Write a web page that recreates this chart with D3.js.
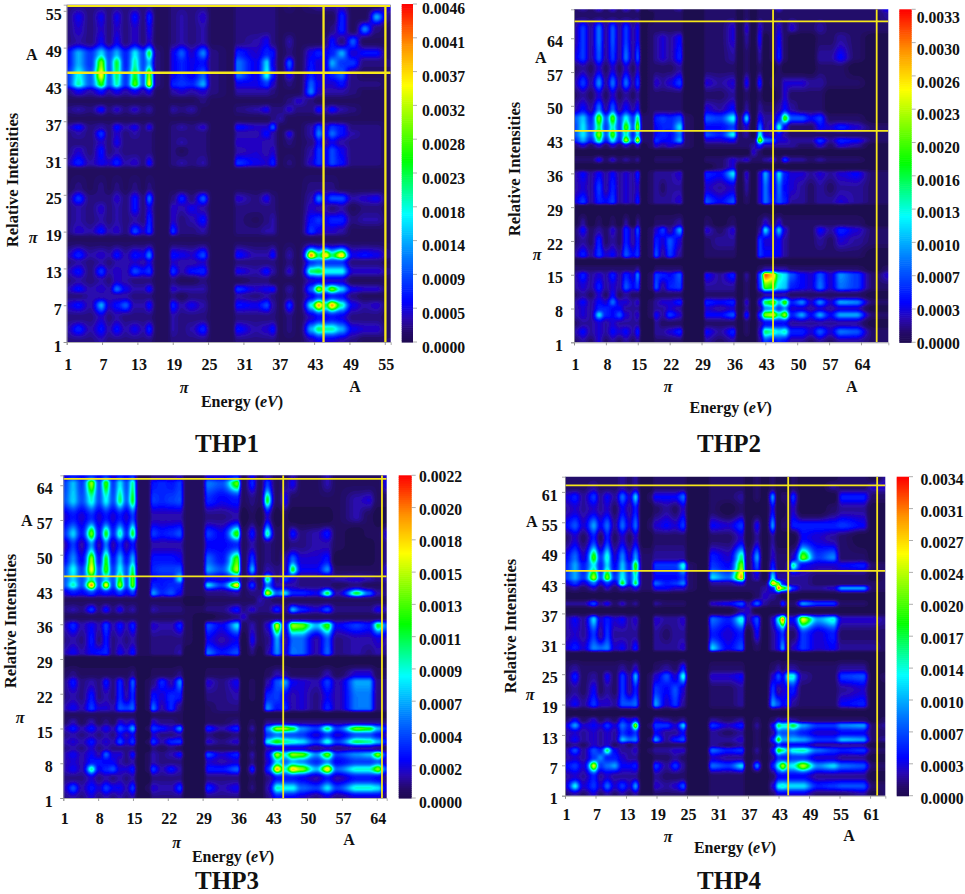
<!DOCTYPE html>
<html><head><meta charset="utf-8">
<style>html,body{margin:0;padding:0;background:#fff}svg{display:block}text{font-family:"Liberation Serif",serif;font-weight:bold;fill:#111}</style>
<script src="https://cdn.jsdelivr.net/npm/d3@7"></script></head><body><svg id="chart" width="965" height="894"></svg>
<script>
// Orbital knots, values at knots in colour-bar units
const thp1Cols=[1,3,5,6.9,8.2,9.5,11,12.6,14,15,16.4,18,19,20.5,22.2,24.2,25.8,29,30,33.2,35,36,37.3,38.8,40.3,42.5,43.8,45,46,47.7,49.6,51.6,53.6,56];
const thp1Rows=[56,54,52,50,48.1,46.5,44.5,43,41.8,40.3,38.9,37.4,36,35,33.5,32.2,30.1,29,26.2,24.4,22.8,20.9,19,17.8,15.1,14,12.5,11,9.6,8.5,7,5,3.1,1];
const thp1Values=[
[2,2,2,2,2,2,2,2,2,2,1,1,2,2,2,2,1,1,2,2,2,2,1,2,1,2,3,3,3,3,1,1,1,6],
[2,5,2,5,2,5,2,6,2,7,1,1,2,3,2,4,1,1,2,2,2,2,1,1,1,1,1,1,1,7,1,1,14,2],
[2,4,2,4,2,4,2,4,2,5,1,1,2,3,2,3,1,1,2,2,2,2,1,1,1,1,1,1,2,7,1,12,2,1],
[2,3,2,5,2,5,2,4,2,4,1,1,2,3,2,3,1,1,2,3,5,2,1,3,1,1,1,2,6,2,10,1,1,1],
[6,14,8,16,9,14,7,17,9,24,2,1,5,10,4,12,2,1,7,4,7,6,1,2,1,5,7,5,7,14,4,6,6,1],
[6,14,8,30,10,24,7,20,9,15,2,1,5,7,5,6,2,1,11,5,16,5,1,10,1,6,4,5,14,8,8,2,2,2],
[8,18,10,36,10,22,8,24,10,32,2,1,5,7,5,10,2,1,11,5,18,7,1,5,1,7,4,5,7,10,2,1,1,1],
[8,20,10,26,10,20,8,28,10,36,2,1,7,8,7,14,2,1,5,5,8,4,1,2,1,10,5,4,4,6,2,2,2,1],
[2,5,3,6,3,5,3,5,3,5,1,1,3,4,3,4,2,1,3,3,3,2,1,1,1,12,4,3,3,3,2,1,1,1],
[1,1,1,1,1,1,1,1,1,1,1,1,1,1,1,2,1,1,1,1,1,1,1,2,4,2,1,1,1,1,1,1,1,1],
[2,3,2,6,2,4,2,4,2,3,1,1,3,2,3,1,1,1,2,3,5,2,2,4,2,2,6,3,6,3,2,1,1,1],
[1,1,1,1,1,1,1,1,1,1,1,1,1,1,1,1,1,1,1,1,1,2,3,1,1,1,1,1,1,1,1,1,1,1],
[3,6,2,3,2,6,3,5,2,5,1,1,2,3,2,4,1,1,6,4,4,10,1,1,1,3,9,4,8,6,2,2,2,1],
[2,3,2,8,2,4,2,3,2,2,1,1,2,2,2,2,1,1,3,3,6,3,1,5,1,3,12,5,11,6,3,2,2,1],
[2,2,2,4,2,5,2,2,2,2,1,1,2,3,2,2,1,1,4,4,3,3,1,2,1,2,6,3,5,3,2,2,2,1],
[2,4,2,6,2,3,2,2,2,2,1,1,2,1,2,2,1,1,3,4,3,4,1,1,1,3,8,5,9,5,2,2,2,1],
[3,7,3,5,4,7,3,4,2,6,1,1,2,3,2,3,1,1,8,5,4,7,1,2,1,4,8,5,9,6,2,2,2,1],
[1,1,1,1,1,1,1,1,1,1,1,1,1,1,1,1,1,1,1,1,1,1,1,1,1,1,1,1,1,1,1,1,1,1],
[1,2,1,2,1,2,1,2,1,2,1,1,1,1,1,1,1,1,1,1,1,1,1,1,1,2,2,2,2,1,1,1,1,1],
[2,8,2,2,2,4,2,6,2,11,1,1,2,7,2,10,1,1,4,2,5,2,1,1,1,3,12,5,9,9,3,4,5,1],
[2,3,2,4,2,3,2,6,2,5,1,1,4,3,5,3,1,1,2,2,2,2,1,1,1,4,3,3,2,3,1,2,2,1],
[2,3,2,3,2,3,2,3,2,7,1,1,4,2,3,6,1,1,2,1,2,3,1,1,1,6,8,5,7,7,2,3,3,1],
[2,4,3,6,3,4,2,9,4,8,1,1,8,2,2,3,1,1,2,2,3,3,1,1,1,8,5,4,4,3,1,1,1,1],
[1,1,1,1,1,1,1,1,1,1,1,1,1,1,1,1,1,1,1,1,1,1,1,1,1,1,1,1,1,1,1,1,1,1],
[3,7,3,4,3,6,3,6,5,12,1,1,6,5,4,9,1,1,6,3,3,6,1,3,1,42,22,38,22,38,5,6,5,2],
[2,3,2,3,2,3,3,4,3,5,1,1,4,3,3,4,1,1,2,2,2,2,1,2,1,8,10,8,8,8,2,2,2,1],
[3,6,2,8,3,4,3,9,6,8,1,1,8,3,6,7,1,1,5,3,6,3,1,4,1,22,24,18,18,18,4,4,4,2],
[2,3,2,3,2,4,3,2,2,2,1,1,2,1,1,2,1,1,1,2,2,1,1,1,1,4,5,4,4,4,1,1,1,1],
[3,6,3,4,3,11,5,3,3,6,1,1,4,3,3,3,1,1,8,4,5,6,1,3,1,10,32,18,30,16,5,4,4,1],
[2,2,3,3,3,3,3,2,2,2,1,1,2,1,2,2,1,1,3,2,3,2,1,2,1,5,8,5,7,6,2,1,1,1],
[4,6,3,14,4,6,10,3,3,6,1,1,7,3,5,3,1,1,6,5,9,3,1,8,1,18,40,22,40,20,5,3,4,1],
[2,2,2,4,2,3,2,2,2,2,1,1,3,2,2,2,1,1,2,2,2,2,1,2,1,4,6,5,6,5,2,2,2,1],
[3,7,3,6,3,6,3,5,3,7,1,1,3,2,3,7,1,1,6,3,4,6,1,2,1,14,22,20,20,14,5,4,4,1],
[2,2,2,3,2,2,2,2,2,2,1,1,2,2,2,2,1,1,2,2,2,2,1,1,1,3,5,4,4,3,2,1,1,2]];

const thp2Cols=[1,3,4.7,6.5,8,9.5,11,12.4,14,15,16.2,18,19,20.5,22,24.3,25.7,29,30,33,36,37.4,38.9,40.4,41.8,43,44.7,46,47.3,48.8,51,53,55,57.3,59.5,63,67,70];
const thp2Rows=[70,69,66,64,60,57.8,54.7,52.2,49.5,47.4,45.5,44,42.8,41.7,40.4,38.8,37.4,36,33,30,29,25.7,24.3,22,19,17.7,16.3,15,12.4,10.8,9.3,8,6.7,4.9,3.2,1];
const thp2Values=[
[1,2,1,3,1,3,1,3,1,3,0,1,1,1,1,2,0,0,1,1,1,0,1,0,1,1,1,3,1,1,1,1,1,1,1,1,1,4],
[1,1,1,1,1,1,1,1,1,1,0,0,1,1,1,1,0,0,1,1,1,0,1,0,1,1,1,1,1,1,1,1,1,1,1,1,1,2],
[2,6,2,8,2,7,2,6,2,4,0,1,1,1,1,1,0,0,1,1,3,0,3,0,3,1,1,3,1,3,1,1,2,1,1,1,1,1],
[2,6,2,8,2,7,2,6,2,4,0,1,2,3,2,4,0,0,1,1,3,0,2,0,4,0,1,4,1,0,0,0,1,1,2,1,0,0],
[3,6,2,7,2,6,2,8,2,7,0,1,2,3,2,5,0,0,1,1,2,0,1,0,2,0,1,5,1,0,0,0,2,2,4,1,0,0],
[1,2,1,3,1,3,1,3,1,3,0,1,1,1,1,2,0,0,1,1,1,0,1,0,1,0,0,1,0,0,0,0,1,1,1,0,0,0],
[2,6,2,9,2,8,2,8,2,6,0,1,3,2,3,6,0,0,3,2,3,0,4,0,5,0,1,1,3,3,3,2,2,1,1,1,0,0],
[1,2,1,3,1,3,1,2,1,2,0,1,1,1,1,1,0,0,1,1,2,0,1,0,1,0,0,1,3,1,1,1,1,0,0,0,0,0],
[2,4,2,8,2,7,2,4,2,4,0,1,1,1,1,1,0,0,3,2,4,0,2,0,2,1,1,2,4,2,1,1,1,0,0,0,0,0],
[7,11,5,21,7,20,6,13,6,16,1,1,5,6,5,7,1,0,7,6,13,1,12,0,4,2,2,5,20,7,7,4,6,1,1,1,0,0],
[6,12,6,16,6,14,6,20,7,23,1,1,4,5,5,12,1,0,4,4,6,1,3,0,8,2,3,14,4,1,1,1,4,3,5,3,1,1],
[7,12,7,22,7,20,6,14,5,12,1,1,4,5,4,8,1,0,7,5,13,1,2,0,14,3,2,4,2,1,1,1,1,1,1,1,1,1],
[5,10,5,16,5,13,5,24,6,28,1,1,6,4,4,10,1,0,3,3,4,1,1,1,24,8,7,3,3,2,2,2,6,2,5,4,1,1],
[1,3,1,3,1,3,1,3,1,3,0,1,3,2,3,2,1,0,1,1,1,1,1,2,5,2,2,2,2,2,1,1,3,1,3,2,0,0],
[0,0,0,0,0,0,0,0,0,0,0,0,0,0,0,0,0,0,0,0,0,0,0,3,1,0,0,0,0,0,0,0,0,0,0,0,0,0],
[1,1,1,4,1,3,1,2,1,2,0,0,1,1,1,1,0,0,1,1,3,2,3,1,1,2,3,1,6,2,2,1,2,1,1,1,0,0],
[0,0,0,0,0,0,0,0,0,0,0,0,0,0,0,0,0,0,0,1,3,0,0,0,0,0,0,0,0,0,0,0,0,0,0,0,0,0],
[2,4,2,4,2,4,2,3,2,5,0,1,2,2,2,3,0,0,5,4,12,0,3,0,3,10,3,12,5,3,3,2,3,2,3,4,1,1],
[2,3,2,6,2,5,2,3,2,3,0,1,2,1,2,2,0,0,3,2,3,0,2,0,3,8,3,8,4,3,2,1,2,1,2,2,1,1],
[3,6,2,5,4,6,2,3,2,5,0,1,2,2,2,3,0,0,7,4,7,0,1,0,3,8,4,7,5,2,2,1,2,2,3,2,1,1],
[0,0,0,0,0,0,0,0,0,0,0,0,0,0,0,0,0,0,0,0,0,0,0,0,0,0,0,0,0,0,0,0,0,0,0,0,0,0],
[0,2,0,1,0,1,0,2,0,2,0,0,1,1,1,2,0,0,1,0,1,0,0,0,1,3,1,3,1,1,1,1,1,1,1,1,0,0],
[1,4,1,2,1,3,1,5,2,7,0,1,3,6,2,10,0,0,3,1,3,0,0,0,2,12,3,11,3,1,1,1,4,2,5,3,1,1],
[1,2,1,5,1,2,1,5,2,5,0,1,5,3,7,3,0,0,1,2,2,0,0,0,6,3,3,4,2,1,1,1,2,1,3,2,1,1],
[2,5,2,6,3,4,2,7,4,6,0,1,7,2,6,2,0,0,1,1,1,0,0,0,6,4,4,4,2,1,1,1,1,1,1,1,0,0],
[0,0,0,0,0,0,0,0,0,0,0,0,0,0,0,0,0,0,0,0,0,0,0,0,0,0,0,0,0,0,0,0,0,0,0,0,0,0],
[1,1,1,1,1,1,1,1,1,2,0,0,1,1,1,1,0,0,0,0,0,0,0,0,1,2,2,2,2,1,1,1,1,1,1,1,0,1],
[2,5,2,3,2,5,2,5,3,9,0,1,6,5,4,7,0,0,4,2,5,0,2,0,7,31,27,14,12,7,4,3,7,3,9,6,1,3],
[2,3,2,5,2,3,2,7,4,6,0,1,7,2,5,6,0,0,2,2,2,0,1,0,6,20,18,12,11,5,4,3,8,3,8,6,1,1],
[1,2,1,3,1,4,1,2,1,1,0,0,1,1,1,1,0,0,1,1,1,0,1,0,1,2,2,2,2,1,1,1,1,1,1,1,0,0],
[2,4,2,4,3,8,3,3,2,3,0,1,2,3,3,5,0,0,5,4,5,0,3,0,4,17,21,11,20,5,9,3,9,3,10,9,1,1],
[2,3,2,5,5,4,4,2,2,2,0,1,2,2,3,2,0,0,3,2,3,0,2,0,2,9,10,6,9,3,3,2,3,2,3,3,0,0],
[2,3,2,12,5,4,7,3,2,3,0,1,4,2,6,3,0,0,4,4,7,0,5,0,6,22,24,15,23,5,10,4,10,4,10,10,1,1],
[1,2,2,3,2,3,2,2,2,2,0,0,2,1,1,1,0,0,1,1,1,0,1,0,2,4,4,4,4,2,2,2,2,2,2,2,0,0],
[2,4,2,3,2,4,3,4,2,5,0,0,2,2,3,5,0,0,4,2,5,0,1,0,3,16,14,12,14,5,5,3,7,3,8,7,1,1],
[1,2,1,3,1,2,1,2,1,2,0,0,1,1,1,1,0,0,2,1,2,0,0,0,2,6,4,5,4,2,2,1,2,1,2,2,1,1]];

const thp3Cols=[1,3,4.7,6.7,8.2,9.6,11,12.4,13.7,15,16.4,18,19,20.8,22.7,24.5,25.8,28.8,30,32.8,36,37.2,39,40.5,42,44,45.6,47.1,48.9,51.9,54.1,56,60,62.5,64.3,66];
const thp3Rows=[66,64.4,61,57.6,54.2,52,49,47,45,43.9,42.2,40.9,38.9,37.5,35.8,32.8,30.1,29,26,24.4,21.4,19,17.7,16.4,15,13.7,12.3,11,9.8,8.3,6.8,5,3,1];
const thp3Values=[
[4,6,5,7,5,7,4,6,5,7,1,1,2,2,2,3,1,1,4,4,6,1,5,1,3,1,1,3,1,1,3,1,1,1,1,4],
[8,14,8,30,9,26,8,16,9,20,1,1,6,7,6,8,1,1,11,9,28,1,7,1,8,1,2,5,1,1,3,1,1,1,1,5],
[9,15,9,18,9,17,9,21,10,24,1,1,8,7,8,9,1,1,7,5,6,1,2,1,24,1,5,1,1,1,1,1,3,4,1,1],
[4,6,4,7,4,6,4,6,4,8,1,1,3,3,3,3,1,1,2,2,3,0,1,0,4,0,1,0,0,0,0,1,3,1,0,0],
[7,15,6,28,6,24,7,19,7,24,1,1,8,6,7,9,1,1,8,5,26,1,6,1,20,1,1,6,2,3,6,1,0,1,1,4],
[3,8,3,12,3,11,3,7,3,6,1,1,3,3,3,3,1,1,5,5,7,1,3,1,2,1,1,2,2,3,3,1,0,0,1,2],
[5,12,5,30,6,24,6,14,6,14,1,1,6,6,6,5,1,1,10,6,27,1,8,1,2,1,3,10,4,4,6,0,0,0,1,2],
[8,17,8,34,9,26,8,17,9,22,1,1,7,8,8,9,1,1,13,9,31,1,14,1,3,2,3,24,5,5,12,1,1,1,1,4],
[9,15,9,20,9,15,9,24,9,28,1,1,5,6,6,16,1,1,5,4,8,1,3,1,22,2,8,4,2,2,2,3,4,3,2,3],
[9,19,9,40,9,36,8,30,9,28,1,1,7,6,7,7,1,1,16,8,38,1,8,1,11,3,3,3,2,2,2,1,2,1,1,2],
[4,6,5,8,5,6,5,8,5,8,1,1,13,7,9,5,1,1,2,2,3,1,2,2,34,10,16,7,7,5,24,3,24,10,3,2],
[1,1,1,1,1,1,1,1,1,1,1,1,1,1,1,1,0,0,1,1,1,1,1,3,2,1,1,1,1,1,1,1,1,1,1,1],
[2,3,2,8,2,6,2,5,2,3,1,1,3,2,2,2,1,1,2,2,6,2,4,2,2,7,2,14,7,4,9,2,2,2,5,3],
[1,1,1,1,1,1,1,1,1,1,1,1,1,1,1,1,1,0,0,1,2,4,1,1,1,1,1,1,1,1,1,1,1,1,1,1],
[3,7,3,5,3,8,3,6,3,7,1,1,4,3,3,7,1,0,9,5,16,1,3,1,4,33,5,30,28,14,26,5,8,6,24,10],
[2,3,2,6,2,6,2,3,2,3,1,1,2,2,2,2,1,0,5,3,5,0,5,1,2,13,3,10,10,3,9,2,3,3,4,3],
[3,5,3,5,6,7,2,5,3,6,1,1,2,2,2,3,0,0,11,6,9,0,2,0,3,12,4,11,10,3,10,2,3,2,3,2],
[0,0,0,0,0,0,0,0,0,0,0,0,0,0,0,0,0,0,0,0,0,0,0,0,0,0,0,0,0,0,0,0,0,0,0,0],
[1,2,1,1,1,1,1,1,1,2,0,0,1,1,1,2,0,0,1,1,1,0,0,0,1,3,2,1,1,1,3,1,4,4,1,1],
[2,6,2,3,2,6,2,7,2,10,0,1,2,7,3,12,0,0,4,2,5,0,1,0,3,9,13,5,4,3,8,3,13,13,2,2],
[2,3,2,6,2,3,2,7,3,7,0,1,6,4,7,6,0,0,2,2,3,0,1,0,7,8,5,3,4,2,5,3,11,11,2,2],
[3,5,3,8,4,4,3,9,8,10,0,1,11,3,7,2,0,0,1,2,2,0,0,0,12,6,7,3,4,2,7,3,11,11,2,2],
[1,1,1,1,1,1,1,1,1,1,0,0,1,1,1,1,0,0,1,1,1,0,0,0,0,0,0,0,0,0,0,0,0,0,0,0],
[1,3,1,3,1,2,1,4,3,4,0,0,4,2,2,1,0,0,1,1,2,0,1,0,2,2,2,2,2,2,2,2,2,2,2,2],
[3,6,3,6,3,5,3,9,6,14,0,1,8,6,4,12,0,0,7,3,7,0,3,0,12,30,30,24,12,8,22,8,28,25,14,6],
[2,3,2,3,2,3,2,5,3,5,0,0,4,2,2,3,0,0,2,1,2,0,1,0,8,11,9,9,8,4,8,4,9,9,6,3],
[3,4,3,6,3,4,3,9,4,8,0,1,8,3,7,8,0,0,4,2,4,0,2,0,17,25,20,18,16,8,18,8,22,20,14,6],
[2,3,2,4,2,3,2,2,2,2,0,0,2,1,2,1,0,0,1,1,1,0,1,0,3,4,4,4,4,2,3,2,3,3,2,1],
[3,5,3,5,3,10,4,4,2,6,0,1,3,2,3,6,0,0,9,4,7,0,3,0,5,31,17,30,28,12,28,8,12,14,30,6],
[3,4,3,6,6,5,5,3,2,3,0,1,3,2,2,2,0,0,4,3,4,0,2,0,4,16,10,14,12,7,12,5,8,8,10,3],
[3,5,3,20,5,7,9,4,4,6,0,1,8,3,6,3,0,0,6,6,10,0,7,0,7,38,18,36,30,14,36,10,18,18,30,8],
[2,2,2,4,2,3,2,3,2,3,0,0,2,2,2,2,0,0,2,2,2,0,1,0,2,6,6,6,5,3,6,3,6,6,5,2],
[3,9,3,6,4,8,5,5,3,8,0,1,4,3,3,8,0,0,7,3,5,0,2,0,3,19,17,17,10,8,16,8,18,18,16,4],
[2,3,2,4,2,3,2,3,2,3,0,0,2,2,2,2,0,0,2,2,2,0,0,0,2,6,5,5,4,2,4,2,4,4,4,2]];

const thp4Cols=[1,3,4.6,6.7,8,9.3,10.8,12.3,13.7,14.9,16.4,17.7,18.8,21,22.7,24.3,25.6,28.5,29.9,33.1,35.8,37,38.8,40.3,41.9,43,43.8,45,45.8,47.8,50.8,53.8,55.5,59.7,61.7,64];
const thp4Rows=[64,62,60,57.6,54.3,52,48,46.5,44,42.9,42,40.4,38.9,37.6,35.9,32.8,30,28.9,26.2,24.6,21.9,19,17.3,16,14.9,13.4,12,11,10,8.5,6.9,4.8,2.9,1];
const thp4Values=[
[1,1,1,1,1,1,1,2,1,2,0,0,1,1,1,1,0,0,1,1,1,0,1,0,1,0,0,0,1,0,0,0,1,1,0,2],
[1,1,1,2,1,1,1,2,1,2,0,0,1,1,1,1,0,0,1,1,1,0,1,0,1,0,0,0,1,0,0,2,1,1,3,3],
[3,5,2,6,2,4,2,8,3,12,0,1,4,4,4,8,0,0,1,1,2,0,1,0,10,0,1,1,6,0,0,0,5,5,1,1],
[2,3,2,3,2,3,1,4,2,5,0,0,1,2,1,3,0,0,1,0,1,0,0,0,4,0,0,1,3,0,0,1,2,2,0,0],
[4,7,3,10,4,8,2,8,3,8,0,1,3,4,3,6,0,0,4,3,6,0,4,0,10,0,1,1,5,5,5,5,6,4,0,0],
[1,3,1,5,1,5,1,3,1,3,0,0,1,1,1,1,0,0,1,1,3,0,2,0,2,0,0,0,0,4,3,2,1,0,0,0],
[4,8,3,20,6,14,3,9,3,10,1,1,2,2,2,2,0,0,5,3,16,1,10,0,3,1,1,1,3,22,6,9,1,1,0,0],
[5,10,5,13,5,12,4,11,5,20,1,1,6,6,6,14,1,0,6,4,22,1,7,0,5,1,1,2,16,4,3,3,4,5,1,1],
[6,10,6,24,7,22,6,13,6,14,1,1,4,4,4,6,1,0,12,8,30,1,3,0,13,2,2,2,2,2,1,1,1,1,0,1],
[3,6,3,8,3,6,3,19,5,18,1,1,8,5,6,9,1,0,2,2,4,1,1,1,30,20,5,2,2,2,1,1,1,1,1,1],
[1,2,1,3,1,3,1,3,2,4,1,1,4,4,3,3,1,0,1,1,1,1,1,2,5,32,22,14,6,2,2,3,10,10,1,1],
[0,0,0,0,0,0,0,0,0,0,0,0,0,0,0,0,0,0,0,0,0,0,1,3,2,1,0,0,0,0,0,0,0,0,0,0],
[2,2,2,7,2,4,1,3,1,2,0,0,2,1,1,1,0,0,3,4,7,2,8,2,1,1,6,1,1,10,6,6,1,1,0,0],
[0,0,0,0,0,0,0,0,0,0,0,0,0,0,0,0,0,0,0,0,2,3,0,0,0,0,0,0,0,0,0,0,0,0,0,0],
[2,4,2,12,3,5,3,4,2,3,0,0,3,2,2,3,0,0,8,5,14,2,7,0,3,14,32,4,4,26,10,14,3,3,3,2],
[2,3,2,6,2,6,2,2,2,2,0,0,2,1,2,2,0,0,5,3,5,0,4,0,2,4,6,1,1,6,3,5,1,1,1,1],
[3,5,3,9,8,9,3,4,2,5,0,0,2,2,2,3,0,0,12,4,7,0,1,0,2,4,10,1,3,6,3,4,2,2,2,1],
[0,0,0,0,0,0,0,0,0,0,0,0,0,0,0,0,0,0,0,0,0,0,0,0,0,0,0,0,0,0,0,0,0,0,0,0],
[1,2,1,1,1,1,1,2,1,3,0,0,1,2,1,5,0,0,1,1,1,0,0,0,1,2,1,2,2,1,1,1,2,2,0,0],
[1,5,1,2,1,4,1,6,2,11,0,1,3,7,3,14,0,0,3,3,4,0,0,0,3,7,4,14,14,2,1,1,6,7,0,1],
[1,2,1,4,1,2,1,6,2,5,0,1,6,4,7,3,0,0,1,1,2,0,0,0,6,2,3,4,5,1,1,1,2,3,0,0],
[2,4,2,6,3,3,2,7,7,8,0,1,10,3,6,2,0,0,1,1,2,0,0,0,10,7,4,5,2,1,1,1,4,5,0,0],
[0,0,0,0,0,0,0,0,0,0,0,0,0,0,0,0,0,0,0,0,0,0,0,0,0,0,0,0,0,0,0,0,0,0,0,0],
[1,4,1,3,1,2,1,5,3,5,0,0,3,2,1,2,0,0,2,1,2,0,1,0,1,3,2,3,2,1,1,1,1,1,0,1],
[3,10,3,4,3,6,3,8,5,24,0,1,6,6,3,12,0,0,6,3,5,0,2,0,4,17,14,14,18,10,6,6,9,10,1,2],
[2,3,2,3,2,3,2,6,4,6,0,0,4,2,2,4,0,0,2,1,2,0,1,0,2,8,7,7,7,5,3,3,4,4,1,1],
[2,4,2,3,2,3,2,11,8,9,0,1,10,2,5,7,0,0,2,2,3,0,1,0,5,20,10,10,11,10,6,6,11,10,1,2],
[1,2,1,3,2,3,1,2,1,2,0,0,1,1,1,1,0,0,2,1,2,0,1,0,2,6,4,4,4,4,2,2,2,2,0,0],
[2,7,2,7,5,17,4,2,2,3,0,1,2,2,3,3,0,0,8,5,6,0,2,0,4,20,16,10,14,15,8,6,5,6,1,1],
[2,3,2,6,9,5,5,3,2,2,0,0,1,1,2,1,0,0,3,2,2,0,1,0,2,6,5,5,6,6,3,3,2,2,0,0],
[4,6,3,26,6,8,10,4,4,5,0,0,6,2,6,2,0,0,8,6,12,0,9,0,5,14,24,12,13,24,9,12,8,7,1,1],
[2,3,2,5,2,3,2,2,2,2,0,0,2,1,1,1,0,0,1,1,1,0,0,0,1,4,4,4,4,4,2,2,2,2,0,0],
[3,13,3,6,3,8,3,6,3,10,0,0,3,2,3,7,0,0,1,1,1,0,0,0,3,13,14,12,12,12,5,6,7,7,1,1],
[1,2,1,3,1,2,1,2,1,2,0,0,1,1,1,1,0,0,1,1,1,0,0,0,1,3,3,3,3,3,1,1,1,2,0,1]];

const thp1Ticks=[1,7,13,19,25,31,37,43,49,55];
const thp2Ticks=[1,8,15,22,29,36,43,50,57,64];
const thp3Ticks=[1,8,15,22,29,36,43,50,57,64];
const thp4Ticks=[1,7,13,19,25,31,37,43,49,55,61];
const thp1YTicks=[1,7,13,19,25,31,37,43,49,55];
const thp2YTicks=[1,8,15,22,29,36,43,50,57,64];
const thp3YTicks=[1,8,15,22,29,36,43,50,57,64];
const thp4YTicks=[1,7,13,19,25,31,37,43,49,55,61];
const thp1Bar=["0.0000","0.0005","0.0009","0.0014","0.0018","0.0023","0.0028","0.0032","0.0037","0.0041","0.0046"];
const thp2Bar=["0.0000","0.0003","0.0007","0.0010","0.0013","0.0016","0.0020","0.0023","0.0026","0.0030","0.0033"];
const thp3Bar=["0.0000","0.0002","0.0004","0.0007","0.0009","0.0011","0.0013","0.0015","0.0018","0.0020","0.0022"];
const thp4Bar=["0.0000","0.0003","0.0007","0.0010","0.0014","0.0017","0.0020","0.0024","0.0027","0.0031","0.0034"];
const thp1Lines={h:[44.9,55.8],v:[44.6,55.1]};
const thp2Lines={h:[44.8,67.5],v:[44.7,67.45]};
const thp3Lines={h:[45.65,65.3],v:[45.2,65.05]};
const thp4Lines={h:[45.4,62.3],v:[44.9,62.4]};
const colorStops=[0,.03,.07,.12,.25,.38,.54,.76,.88,1];
const colorRange=["#1e0a50","#240a68","#2a08b0","#0000ff","#0078ff","#00ffff","#00ff00","#ffff00","#ff9000","#ff0000"];

const panels=[
{name:"THP1",cols:thp1Cols,rows:thp1Rows,values:thp1Values,max:46,dom:56,ticks:thp1Ticks,yticks:thp1YTicks,bar:thp1Bar,lines:thp1Lines,lw:2.3,
 x:[66.7,390.7],y:[342,4.7],cb:[401.7,413,4,342],cbx:422,cbo:[5.7,5],xly:364,ylx:61.7,yo:4,
 marks:[["A",31.7,55,0],["π",33,238,1],["π",184,388,1],["A",355,387,0]],en:[242,402],ri:[12,180],t:[227,443]},
{name:"THP2",cols:thp2Cols,rows:thp2Rows,values:thp2Values,max:33,dom:70,ticks:thp2Ticks,yticks:thp2YTicks,bar:thp2Bar,lines:thp2Lines,lw:1.8,
 x:[574,888.3],y:[342.3,9.3],cb:[899.3,911.7,9.3,342.3],cbx:916.7,cbo:[1,8],xly:364,ylx:563,yo:3,
 marks:[["A",540.7,58,0],["π",537,255,1],["π",668,387,1],["A",851.7,387,0]],en:[730.7,408],ri:[514,169],t:[729,443]},
{name:"THP3",cols:thp3Cols,rows:thp3Rows,values:thp3Values,max:44,dom:66,ticks:thp3Ticks,yticks:thp3YTicks,bar:thp3Bar,lines:thp3Lines,lw:1.8,
 x:[63.3,386.7],y:[798,475.3],cb:[398.7,411.7,475.3,798],cbx:419,cbo:[4.3,1.4],xly:818,ylx:52.7,yo:3.5,
 marks:[["A",26.7,521,0],["π",20,718,1],["π",176.7,842.7,1],["A",349,840,0]],en:[233,856.7],ri:[10,621],t:[227,880]},
{name:"THP4",cols:thp4Cols,rows:thp4Rows,values:thp4Values,max:34,dom:64,ticks:thp4Ticks,yticks:thp4YTicks,bar:thp4Bar,lines:thp4Lines,lw:1.8,
 x:[565,885.3],y:[795.7,476.7],cb:[896.7,909,476.7,795.7],cbx:920.5,cbo:[2.6,2.6],xly:814,ylx:557.7,yo:3,
 marks:[["A",531.7,522,0],["π",530,695,1],["π",668,836.7,1],["A",849,836,0]],en:[735,847.7],ri:[510,626],t:[729,880]}
];

const svg=d3.select("#chart");
svg.append("rect").attr("width",965).attr("height",894).attr("fill","#fff");
const defs=svg.append("defs");
defs.append("filter").attr("id","soft").attr("x","-2%").attr("y","-2%").attr("width","104%").attr("height","104%")
 .append("feGaussianBlur").attr("stdDeviation",0.7);
const color=d3.scaleLinear().domain(colorStops).range(colorRange).interpolate(d3.interpolateRgb).clamp(true);
const smooth=t=>t*t*(3-2*t);
const LEVELS=80;
const FONT=16;
const EPS=0.7;
// rendering only: blend neighbouring readings geometrically so blobs stay round and narrow
const toLog=v=>Math.log(v+EPS), fromLog=v=>Math.exp(v)-EPS;

panels.forEach((p,pi)=>{
 const g=svg.append("g").attr("class",p.name);
 const x=d3.scaleLinear().domain([1,p.dom]).range(p.x);
 const y=d3.scaleLinear().domain([1,p.dom]).range(p.y);
 const rowsAsc=p.rows.slice().reverse(), valsAsc=p.values.slice().reverse();
 const w=Math.abs(p.x[1]-p.x[0]),h=Math.abs(p.y[1]-p.y[0]);
 const gw=Math.round(w/1.5),gh=Math.round(h/1.5);
 const ux=d3.scaleLinear().domain([0,gw-1]).range([1,p.dom]);
 const uy=d3.scaleLinear().domain([0,gh-1]).range([p.dom,1]);
 const bracket=(arr,u)=>{let i=d3.bisectRight(arr,u)-1;i=Math.max(0,Math.min(arr.length-2,i));
   return [i,smooth(Math.max(0,Math.min(1,(u-arr[i])/(arr[i+1]-arr[i]))))];};
 const grid=new Float64Array(gw*gh);
 for(let j=0;j<gh;j++){const [r,tr]=bracket(rowsAsc,uy(j));
  for(let i=0;i<gw;i++){const [c,tc]=bracket(p.cols,ux(i));
   const a=toLog(valsAsc[r][c]??0),b=toLog(valsAsc[r][c+1]??0),d=toLog(valsAsc[r+1][c]??0),e=toLog(valsAsc[r+1][c+1]??0);
   grid[j*gw+i]=fromLog((a*(1-tc)+b*tc)*(1-tr)+(d*(1-tc)+e*tc)*tr)/p.max;}}
 const contours=d3.contours().size([gw,gh]).thresholds(d3.range(1,LEVELS).map(k=>k/LEVELS))(grid);
 const proj=d3.geoTransform({point(a,b){this.stream.point(x(ux(a-0.5)),y(uy(b-0.5)));}});
 const path=d3.geoPath(proj);
 defs.append("clipPath").attr("id","clip"+pi).append("rect")
  .attr("x",p.x[0]).attr("y",p.y[1]).attr("width",w).attr("height",h);
 const clip=g.append("g").attr("clip-path",`url(#clip${pi})`);
 const map=clip.append("g").attr("filter","url(#soft)");
 map.append("rect").attr("x",p.x[0]-4).attr("y",p.y[1]-4).attr("width",w+8).attr("height",h+8).attr("fill",color(0));
 map.selectAll("path").data(contours).join("path").attr("d",path)
  .attr("fill",d=>color(d.value+0.5/LEVELS)).attr("stroke","none");
 clip.selectAll("line.h").data(p.lines.h).join("line").attr("class","h")
  .attr("x1",p.x[0]).attr("x2",p.x[1]).attr("y1",d=>y(d)).attr("y2",d=>y(d))
  .attr("stroke","#f6e71a").attr("stroke-width",p.lw);
 clip.selectAll("line.v").data(p.lines.v).join("line").attr("class","v")
  .attr("y1",p.y[0]).attr("y2",p.y[1]).attr("x1",d=>x(d)).attr("x2",d=>x(d))
  .attr("stroke","#f6e71a").attr("stroke-width",p.lw);
 const ax=g.append("g").attr("transform",`translate(0,${p.y[0]})`)
  .call(d3.axisBottom(x).tickValues(p.ticks).tickFormat(d3.format("d")).tickSize(3));
 ax.selectAll("text").attr("y",p.xly-p.y[0]-5.5).attr("dx",1).style("font-size",FONT+"px");
 const ay=g.append("g").attr("transform",`translate(${p.x[0]},0)`)
  .call(d3.axisLeft(y).tickValues(p.yticks).tickFormat(d3.format("d")).tickSize(3));
 ay.selectAll("text").attr("x",p.ylx-p.x[0]).attr("transform",`translate(0,${p.yo})`).attr("dy",".32em").style("font-size",FONT+"px");
 [ax,ay].forEach(a=>{a.attr("font-family",null).attr("font-size",null);
  a.select(".domain").attr("stroke","#999").attr("stroke-width",.8);
  a.selectAll("line").attr("stroke","#888").attr("stroke-width",.8);});
 const [b0,b1,bt,bb]=p.cb;
 const cy=d3.scaleLinear().domain([0,p.max]).range([bb,bt]);
 const barSteps=d3.range(0,160).map(k=>k/160);
 g.append("g").selectAll("rect").data(barSteps).join("rect")
  .attr("x",b0).attr("width",b1-b0).attr("y",d=>cy((d+1/160)*p.max)).attr("height",(bb-bt)/160+.6)
  .attr("fill",d=>color(d+.5/160));
 const barTick=g.append("g");
 barTick.selectAll("line").data(p.bar).join("line")
  .attr("x1",b1).attr("x2",b1+4).attr("y1",(d,i)=>cy(i/10*p.max)).attr("y2",(d,i)=>cy(i/10*p.max))
  .attr("stroke","#999").attr("stroke-width",.8);
 barTick.selectAll("text").data(p.bar).join("text").text(d=>d)
  .attr("x",p.cbx).attr("dy",".34em").style("font-size","15.7px")
  .attr("y",(d,i)=>cy(i/10*p.max)+p.cbo[0]+(p.cbo[1]-p.cbo[0])*i/10);
 g.append("g").selectAll("text").data(p.marks).join("text").text(d=>d[0])
  .attr("x",d=>d[1]).attr("y",d=>d[2]).attr("text-anchor","middle").attr("dy",".34em")
  .style("font-style",d=>d[3]?"italic":"normal").style("font-size","16px");
 const en=g.append("text").attr("x",p.en[0]).attr("y",p.en[1]).attr("dy",".34em").attr("text-anchor","middle").style("font-size","16px");
 en.append("tspan").text("Energy (");
 en.append("tspan").text("eV").style("font-style","italic");
 en.append("tspan").text(")");
 g.append("text").text("Relative Intensities").attr("text-anchor","middle").attr("dy",".34em")
  .attr("transform",`translate(${p.ri[0]},${p.ri[1]}) rotate(-90)`).style("font-size","16.5px");
 g.append("text").text(p.name).attr("x",p.t[0]).attr("y",p.t[1]).attr("dy",".34em").attr("text-anchor","middle").style("font-size","25px");
});
</script></body></html>
